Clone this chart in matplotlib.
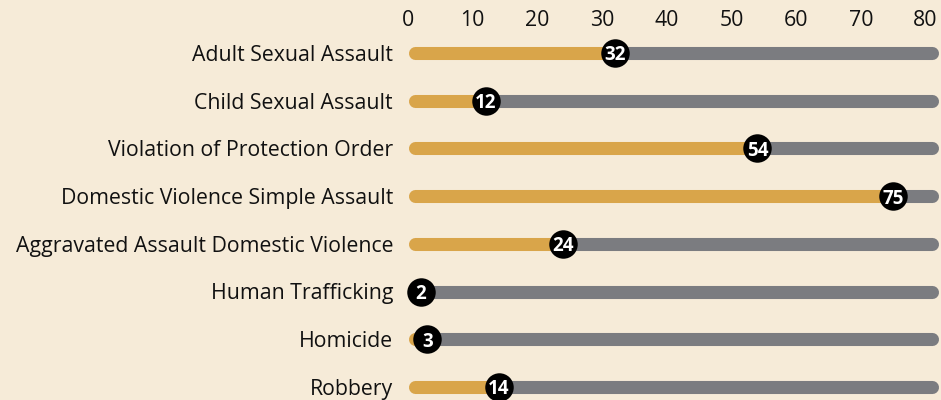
import numpy as np
import matplotlib
matplotlib.use('Agg')
import matplotlib.pyplot as plt

categories = ['Adult Sexual Assault', 'Child Sexual Assault', 'Violation of Protection Order',
              'Domestic Violence Simple Assault', 'Aggravated Assault Domestic Violence',
              'Human Trafficking', 'Homicide', 'Robbery']
values = [32, 12, 54, 75, 24, 2, 3, 14]
ticks = [0, 10, 20, 30, 40, 50, 60, 70, 80]

bg = '#f6ebd8'
gold = '#d9a54a'
grey = '#7b7c80'

plt.rcParams['font.family'] = ['Open Sans', 'DejaVu Sans']

W, H = 941, 400
fig = plt.figure(figsize=(W/100, H/100), dpi=100, facecolor=bg)

## axes placed in pixel terms: x=0 at 408px, 6.47 px per unit, rows ~48 px apart from y=53
px_unit = 6.47
ax_left, ax_top = 400, 35
ax = fig.add_axes([ax_left/W, 0, (W-ax_left)/W, (H-ax_top)/H])
ax.set_facecolor(bg)
ax.set_xlim((ax_left-408)/px_unit, (W-408)/px_unit)
row, first = 47.7, 53.0
ax.set_ylim((H-first)/row, (ax_top-first)/row)

cap = 6.5/px_unit
y = np.arange(len(categories))
for i, v in enumerate(values):
    ax.plot([v, 81], [y[i], y[i]], color=grey, lw=9.4, solid_capstyle='round', zorder=1)
    ax.plot([cap, v], [y[i], y[i]], color=gold, lw=9.4, solid_capstyle='round', zorder=2)
    ax.plot(v, y[i], 'o', ms=20.5, color='black', mec='none', zorder=3)
    ax.text(v, y[i], str(v), color='white', fontsize=13.5, fontweight='bold',
            ha='center', va='center_baseline', zorder=4)

ax.xaxis.tick_top()
ax.set_xticks(ticks)
ax.set_yticks(y)
ax.set_yticklabels(categories)
ax.tick_params(axis='x', length=0, pad=3, labelsize=15.3, labelcolor='#111111')
ax.tick_params(axis='y', length=0, pad=5, labelsize=15.3, labelcolor='#111111')
for s in ax.spines.values():
    s.set_visible(False)

fig.savefig('out.png', dpi=100, facecolor=bg)
